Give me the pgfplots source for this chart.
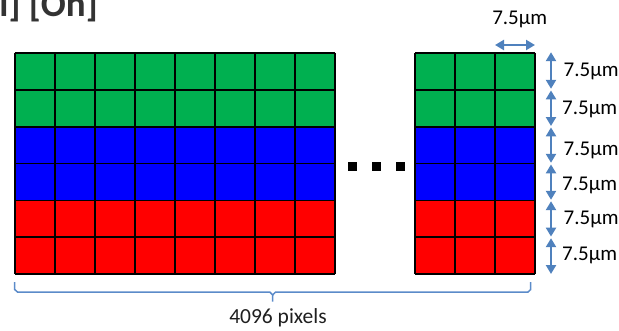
\documentclass[border=0pt]{standalone}
\usepackage{pgfplots}
\pgfplotsset{compat=1.18}
\usepackage{fontspec}
\setmainfont{Carlito}
\usetikzlibrary{arrows.meta}
\definecolor{cgreen}{RGB}{0,176,80}
\definecolor{cblue}{RGB}{0,0,255}
\definecolor{cred}{RGB}{255,0,0}
\definecolor{abl}{RGB}{79,129,189}
\definecolor{brc}{RGB}{91,139,201}
\begin{document}
\begin{tikzpicture}
\path (0,0) rectangle (619bp,326bp);
\begin{axis}[at={(0,0)}, anchor=south west, width=619bp, height=326bp, scale only axis,
  xmin=0, xmax=619, ymin=0, ymax=326, y dir=reverse,
  axis lines=none, clip=false,
  ar/.style={abl, line width=2.6bp, {Triangle[width=10bp,length=9bp]}-{Triangle[width=10bp,length=9bp]}}]
% colour bands, left block
\addplot[fill=cgreen, draw=none] coordinates {(14.7,52.7)(335,52.7)(335,126.7)(14.7,126.7)};
\addplot[fill=cblue, draw=none] coordinates {(14.7,126.7)(335,126.7)(335,200.5)(14.7,200.5)};
\addplot[fill=cred, draw=none] coordinates {(14.7,200.5)(335,200.5)(335,274)(14.7,274)};
% colour bands, right block
\addplot[fill=cgreen, draw=none] coordinates {(415,52.7)(535,52.7)(535,126.7)(415,126.7)};
\addplot[fill=cblue, draw=none] coordinates {(415,126.7)(535,126.7)(535,200.5)(415,200.5)};
\addplot[fill=cred, draw=none] coordinates {(415,200.5)(535,200.5)(535,274)(415,274)};
% grid lines
\addplot[black, line width=1.7bp, unbounded coords=jump] table {
x y
14.7 52.7
14.7 274
nan nan
54.8 52.7
54.8 274
nan nan
94.9 52.7
94.9 274
nan nan
135 52.7
135 274
nan nan
175 52.7
175 274
nan nan
215 52.7
215 274
nan nan
255 52.7
255 274
nan nan
295 52.7
295 274
nan nan
335 52.7
335 274
nan nan
14.7 52.7
335 52.7
nan nan
14.7 89.7
335 89.7
nan nan
14.7 126.7
335 126.7
nan nan
14.7 163.5
335 163.5
nan nan
14.7 200.5
335 200.5
nan nan
14.7 237.3
335 237.3
nan nan
14.7 274
335 274
nan nan
415 52.7
415 274
nan nan
455 52.7
455 274
nan nan
495 52.7
495 274
nan nan
535 52.7
535 274
nan nan
415 52.7
535 52.7
nan nan
415 89.7
535 89.7
nan nan
415 126.7
535 126.7
nan nan
415 163.5
535 163.5
nan nan
415 200.5
535 200.5
nan nan
415 237.3
535 237.3
nan nan
415 274
535 274
};
% ellipsis dots
\addplot[only marks, mark=square*, mark size=3.9pt, black] coordinates {(352,166)(376,166)(400,166)};
% brace
\addplot[brc, line width=1.5bp] coordinates {(14.7,282)(14.7,289.5)(17.5,292)(269.8,292)(272.7,295)(272.7,301.5)};
\addplot[brc, line width=1.5bp] coordinates {(272.7,295)(275.6,292)(528,292)(530.7,289.5)(530.7,282)};
% arrows
\addplot[ar] coordinates {(495,45)(535,45)};
\addplot[ar] coordinates {(551,52.2)(551,88.8)};
\addplot[ar] coordinates {(551,90.4)(551,126)};
\addplot[ar] coordinates {(551,127.4)(551,162.8)};
\addplot[ar] coordinates {(551,164.4)(551,199.8)};
\addplot[ar] coordinates {(551,201.2)(551,236.6)};
\addplot[ar] coordinates {(551,238.2)(551,274)};
% labels
\node[font=\fontsize{21bp}{24bp}\selectfont, anchor=center] at (axis cs:519.7,19.5) {7.5µm};
\node[font=\fontsize{21bp}{24bp}\selectfont, anchor=west, inner sep=0pt] at (axis cs:563.5,71.5) {7.5µm};
\node[font=\fontsize{21bp}{24bp}\selectfont, anchor=west, inner sep=0pt] at (axis cs:562,109.5) {7.5µm};
\node[font=\fontsize{21bp}{24bp}\selectfont, anchor=west, inner sep=0pt] at (axis cs:563.5,150) {7.5µm};
\node[font=\fontsize{21bp}{24bp}\selectfont, anchor=west, inner sep=0pt] at (axis cs:562,185.5) {7.5µm};
\node[font=\fontsize{21bp}{24bp}\selectfont, anchor=west, inner sep=0pt] at (axis cs:563.5,219) {7.5µm};
\node[font=\fontsize{21bp}{24bp}\selectfont, anchor=west, inner sep=0pt] at (axis cs:562,255) {7.5µm};
\node[font=\fontsize{21.5bp}{24bp}\selectfont, text=black!88, anchor=center] at (axis cs:278,318) {4096 pixels};
\node[overlay, font=\fontsize{37bp}{40bp}\selectfont\bfseries, text=black!80, anchor=base east, inner sep=0pt] at (axis cs:98,16.7) {l] [On]};
\end{axis}
\end{tikzpicture}
\end{document}
